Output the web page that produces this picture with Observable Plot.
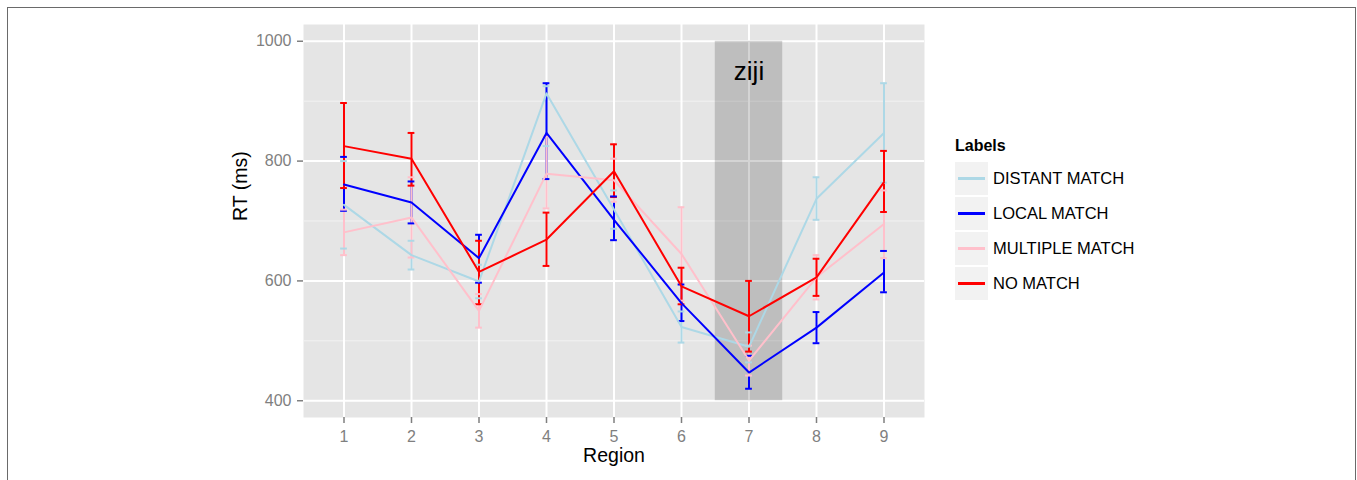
<!DOCTYPE html>
<html>
<head>
<meta charset="utf-8">
<script src="https://cdn.jsdelivr.net/npm/d3@7"></script>
<script src="https://cdn.jsdelivr.net/npm/@observablehq/plot@0.6"></script>
<style>
  html, body { margin: 0; padding: 0; background: #fff; }
  #wrap { position: relative; width: 1357px; height: 480px; overflow: hidden; font-family: "Liberation Sans", Arial, sans-serif; }
  #border { position: absolute; left: 7px; top: 7px; width: 1347px; height: 600px; border: 1.5px solid #6a6a6a; }
  #chart { position: absolute; left: 0; top: 0; }
  #legend { position: absolute; left: 955px; top: 137px; }
  #legend .title { font-weight: bold; font-size: 16px; color: #000; height: 24px; line-height: 18px; }
  #legend .row { display: flex; align-items: center; height: 35px; }
  #legend .key { width: 33px; height: 33px; background: #f2f2f2; display: flex; align-items: center; justify-content: center; }
  #legend .key span { display: block; width: 27px; height: 2.5px; }
  #legend .lab { font-size: 16.5px; margin-left: 5px; color: #000; }
</style>
</head>
<body>
<div id="wrap">
  <div id="border"></div>
  <div id="chart"></div>
  <div id="legend"></div>
</div>
<script>
const regions = [1, 2, 3, 4, 5, 6, 7, 8, 9];
const labels = ["DISTANT MATCH", "LOCAL MATCH", "MULTIPLE MATCH", "NO MATCH"];
const colors = ["lightblue", "blue", "pink", "red"];

const distantRT = [727, 643, 599, 913, 719, 523, 490, 737, 847];
const distantLo = [654, 619, 571, 825, 687, 497, 464, 702, 764];
const distantHi = [800, 667, 627, 925, 751, 549, 514, 773, 930];

const localRT = [761, 731, 638, 847, 702, 563, 447, 522, 614];
const localLo = [717, 696, 597, 770, 668, 533, 420, 496, 581];
const localHi = [807, 766, 677, 930, 741, 594, 475, 548, 650];

const multipleRT = [681, 706, 550, 779, 768, 645, 467, 606, 695];
const multipleLo = [643, 639, 522, 721, 732, 567, 442, 569, 638];
const multipleHi = [719, 773, 578, 841, 804, 723, 492, 643, 751];

const noRT = [825, 804, 615, 669, 783, 591, 541, 606, 765];
const noLo = [755, 759, 561, 625, 740, 561, 482, 575, 715];
const noHi = [897, 847, 667, 714, 828, 622, 600, 637, 817];

const yTicks = [400, 600, 800, 1000];
const yMinor = [500, 700, 900];

// shaded annotation
const shade = [{x1: 6.5, x2: 7.5, y1: 400, y2: 1000}];
const shadeLabel = [{x: 7, y: 950, text: "ziji"}];

const series = [
  [distantRT, distantLo, distantHi],
  [localRT, localLo, localHi],
  [multipleRT, multipleLo, multipleHi],
  [noRT, noLo, noHi]
];
const rows = [];
series.forEach(([rt, lo, hi], i) => {
  regions.forEach((r, j) => rows.push({label: labels[i], region: r, rt: rt[j], lo: lo[j], hi: hi[j]}));
});

const capHalf = 0.05;

const chart = Plot.plot({
  width: 1357,
  height: 480,
  marginTop: 24,
  marginBottom: 63,
  marginLeft: 303,
  marginRight: 433,
  style: {fontFamily: "'Liberation Sans', Arial, sans-serif", background: "transparent"},
  x: {domain: [0.4, 9.6]},
  y: {domain: [372, 1028]},
  color: {domain: labels, range: colors},
  marks: [
    Plot.frame({fill: "#e5e5e5", stroke: null}),
    Plot.gridY(yMinor, {stroke: "#f2f2f2", strokeOpacity: 1, strokeWidth: 1}),
    Plot.gridY(yTicks, {stroke: "#ffffff", strokeOpacity: 1, strokeWidth: 2}),
    Plot.gridX(regions, {stroke: "#ffffff", strokeOpacity: 1, strokeWidth: 2}),
    Plot.rect(shade, {x1: "x1", x2: "x2", y1: "y1", y2: "y2", fill: "#000", fillOpacity: 0.17}),
    Plot.text(shadeLabel, {x: "x", y: "y", text: "text", fontSize: 26, fill: "#000"}),
    Plot.ruleX(rows, {x: "region", y1: "lo", y2: "hi", stroke: "label", strokeWidth: 2}),
    Plot.ruleY(rows, {x1: d => d.region - capHalf, x2: d => d.region + capHalf, y: "lo", stroke: "label", strokeWidth: 2}),
    Plot.ruleY(rows, {x1: d => d.region - capHalf, x2: d => d.region + capHalf, y: "hi", stroke: "label", strokeWidth: 2}),
    Plot.line(rows, {x: "region", y: "rt", z: "label", stroke: "label", strokeWidth: 2}),
    Plot.axisX(regions, {tickSize: 6, tickPadding: 7, stroke: "#7f7f7f", fill: "#7f7f7f", fontSize: 16, label: null, strokeWidth: 1.5, tickFormat: d => String(d)}),
    Plot.axisY(yTicks, {tickSize: 6, tickPadding: 6, stroke: "#7f7f7f", fill: "#7f7f7f", fontSize: 16, label: null, strokeWidth: 1.5, tickFormat: d => String(d)}),
    Plot.text(["Region"], {frameAnchor: "bottom", dy: 44, fontSize: 19.5, fill: "#000"}),
    Plot.text(["RT (ms)"], {frameAnchor: "left", dx: -63, rotate: -90, fontSize: 19.5, fill: "#000"})
  ]
});
document.getElementById("chart").appendChild(chart);

// legend
const legend = document.getElementById("legend");
const t = document.createElement("div");
t.className = "title";
t.textContent = "Labels";
legend.appendChild(t);
labels.forEach((lab, i) => {
  const row = document.createElement("div");
  row.className = "row";
  const key = document.createElement("div");
  key.className = "key";
  const sw = document.createElement("span");
  sw.style.background = colors[i];
  key.appendChild(sw);
  const tx = document.createElement("div");
  tx.className = "lab";
  tx.textContent = lab;
  row.appendChild(key);
  row.appendChild(tx);
  legend.appendChild(row);
});
</script>
</body>
</html>
